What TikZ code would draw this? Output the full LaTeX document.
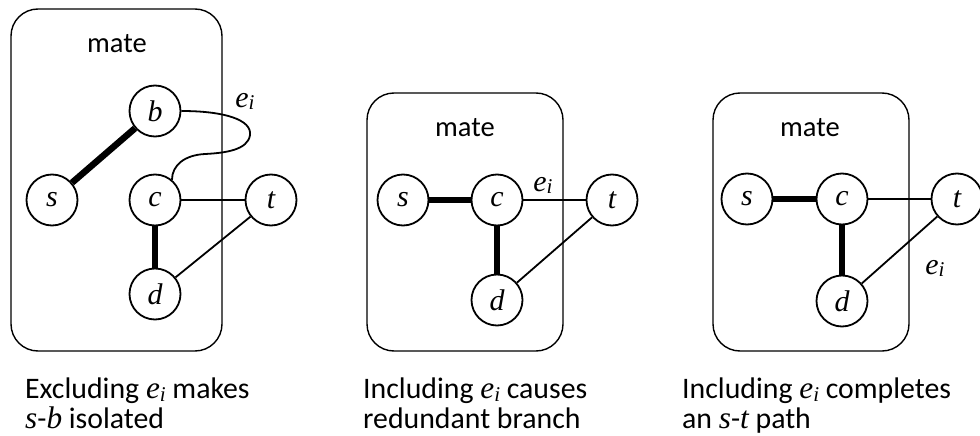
\documentclass[tikz,border=0pt]{standalone}
\usepackage{fontspec}
\setmainfont{Carlito}
\newfontfamily\varfont{Liberation Serif}[Scale=1.05]
% italic variable names, and e with subscript i
\newcommand{\vn}[1]{{\varfont\itshape #1}}
\newcommand{\ei}{{\varfont\itshape e\raisebox{-0.1em}{\fontsize{20}{20}\selectfont i}}}
\begin{document}
\begin{tikzpicture}[x=1pt,y=-1pt,
  every node/.style={font=\fontsize{28.5}{30}\selectfont},
  matebox/.style={draw, line width=1.4pt, rounded corners=27pt},
  vertex/.style={draw, circle, line width=1.8pt, minimum size=51pt, inner sep=0pt, fill=white},
  heavy/.style={line width=6.5pt},
  light/.style={line width=1.8pt},
  caption/.style={anchor=base west, inner sep=0pt, font=\fontsize{29.8}{30}\selectfont},
  firstline/.style={caption, text depth=0pt},
  secondline/.style={caption, text height=20pt}]
\useasboundingbox (0,0) rectangle (980,436);

% --- frames holding the mate ---
\draw[matebox] (11,9) rectangle (222,351);
\draw[matebox] (367,93) rectangle (563,351);
\draw[matebox] (713,93) rectangle (909,351);

\node[anchor=base] (mate1) at (117,53) {mate};
\node[anchor=base] (mate2) at (465,136) {mate};
\node[anchor=base] (mate3) at (810,136) {mate};

% --- first graph: excluding e_i ---
\node[vertex] (b1) at (155,111) {\vn{b}};
\node[vertex] (s1) at (52,200) {\vn{s}};
\node[vertex] (c1) at (155,200) {\vn{c}};
\node[vertex] (t1) at (271,200) {\vn{t}};
\node[vertex] (d1) at (155,294) {\vn{d}};
\draw[heavy] (s1) -- (b1);
\draw[heavy] (c1) -- (d1);
\draw[light] (c1) -- (t1);
\draw[light] (d1) -- (t1);
\draw[light] (b1.east) .. controls (225,111) and (252,120) .. (250,135)
  .. controls (248,150) and (225,153) .. (205,154)
  .. controls (185,155) and (172,165) .. (c1.50);
\node[anchor=base] (e1) at (245,107) {\ei};

% --- second graph: including e_i, redundant branch ---
\node[vertex] (s2) at (403,200) {\vn{s}};
\node[vertex] (c2) at (497,200) {\vn{c}};
\node[vertex] (t2) at (612,200) {\vn{t}};
\node[vertex] (d2) at (497,300) {\vn{d}};
\draw[heavy] (s2) -- (c2);
\draw[heavy] (c2) -- (d2);
\draw[light] (c2) -- (t2);
\draw[light] (d2) -- (t2);
\node[anchor=base] (e2) at (543,191) {\ei};

% --- third graph: including e_i, s-t path ---
\node[vertex] (s3) at (747,199) {\vn{s}};
\node[vertex] (c3) at (842,199) {\vn{c}};
\node[vertex] (t3) at (957,199) {\vn{t}};
\node[vertex] (d3) at (842,301) {\vn{d}};
\draw[heavy] (s3) -- (c3);
\draw[heavy] (c3) -- (d3);
\draw[light] (c3) -- (t3);
\draw[light] (d3) -- (t3);
\node[anchor=base] (e3) at (935,274) {\ei};

% --- captions ---
\node[firstline] (cap1a) at (25,398) {Excluding \ei{} makes};
\node[secondline] (cap1b) at (25,428) {\vn{s}-\vn{b} isolated};
\node[firstline] (cap2a) at (363,398) {Including \ei{} causes};
\node[secondline] (cap2b) at (363,428) {redundant branch};
\node[firstline] (cap3a) at (682,398) {Including \ei{} completes};
\node[secondline] (cap3b) at (682,428) {an \vn{s}-\vn{t} path};
\end{tikzpicture}
\end{document}
